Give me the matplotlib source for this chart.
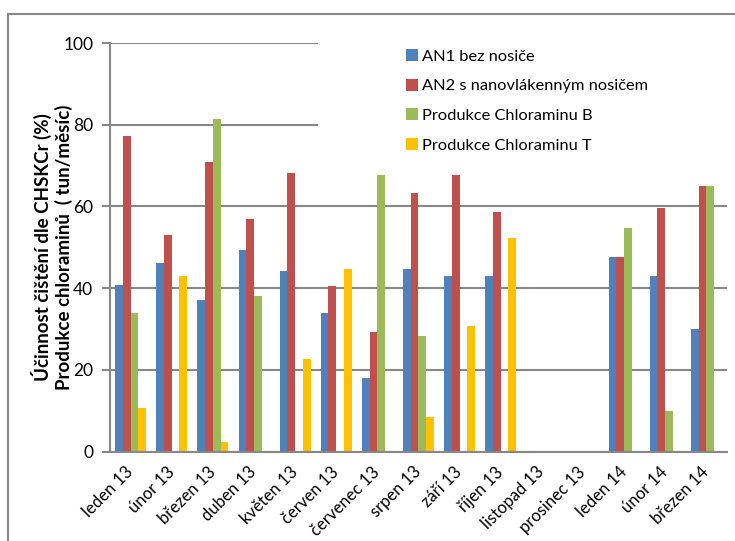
import numpy as np
import matplotlib.pyplot as plt
from matplotlib.patches import Rectangle

months = ['leden 13', 'únor 13', 'březen 13', 'duben 13', 'květen 13', 'červen 13',
          'červenec 13', 'srpen 13', 'září 13', 'říjen 13', 'listopad 13', 'prosinec 13',
          'leden 14', 'únor 14', 'březen 14']

an1 = [40.8, 46.1, 37.2, 49.3, 44.1, 34.0, 18.0, 44.8, 42.9, 43.0, 0, 0, 47.6, 42.9, 30.0]
an2 = [77.3, 52.9, 70.9, 56.9, 68.1, 40.4, 29.3, 63.3, 67.7, 58.7, 0, 0, 47.6, 59.7, 65.0]
chlor_b = [34.0, 0, 81.3, 38.1, 0, 0, 67.7, 28.4, 0, 0, 0, 0, 54.8, 10.0, 65.0]
chlor_t = [10.7, 42.9, 2.4, 0, 22.7, 44.8, 0, 8.4, 30.8, 52.2, 0, 0, 0, 0, 0]

series = [('AN1 bez nosiče', an1, '#4F81BD'),
          ('AN2 s nanovlákenným nosičem', an2, '#C0504D'),
          ('Produkce Chloraminu B', chlor_b, '#9BBB59'),
          ('Produkce Chloraminu T', chlor_t, '#FFC000')]

plt.rcParams['font.family'] = ['Lato', 'DejaVu Sans']
grey = '#878787'

fig = plt.figure(figsize=(7.35, 5.41), dpi=100)
ax = fig.add_axes([0.1497, 0.1654, 0.8393, 0.7551])

x = np.arange(len(months))
w = 0.188
for i, (name, vals, col) in enumerate(series):
    ax.bar(x + (i - 1.5) * w, vals, w, color=col, label=name, zorder=2)

ax.set_xlim(-0.5, len(months) - 0.5)
ax.set_ylim(0, 100)
ax.set_yticks([0, 20, 40, 60, 80, 100])
ax.yaxis.grid(True, color=grey, lw=1.5)
ax.set_axisbelow(True)
for s in ['top', 'right']:
    ax.spines[s].set_visible(False)
for s in ['left', 'bottom']:
    ax.spines[s].set_color(grey)
    ax.spines[s].set_linewidth(1.5)
ax.tick_params(axis='y', length=6, width=1.5, color=grey, labelsize=12.5, pad=6)
ax.tick_params(axis='x', length=0, labelsize=12, pad=13)
ax.set_xticks(x)
ax.set_xticklabels(months, rotation=45, ha='right', va='center', rotation_mode='anchor')

ax.set_ylabel('Účinnost čištění dle CHSKCr (%)\nProdukce chloraminů  ( tun/měsíc)',
              fontsize=13.5, fontweight='bold', linespacing=1.2)
ax.yaxis.set_label_coords(-0.06, 0.5)

# white block behind the legend, hides the upper gridlines
fig.add_artist(Rectangle((318 / 735, 1 - 165 / 541), 0.56, 130 / 541,
                         transform=fig.transFigure, facecolor='white',
                         edgecolor='none', zorder=1))
handles, labels = ax.get_legend_handles_labels()
fig.legend(handles, labels, loc='upper left', bbox_to_anchor=(406 / 735, 1 - 49 / 541),
           frameon=False, fontsize=11.8, handlelength=0.75, handleheight=0.75,
           handletextpad=0.2, labelspacing=0.91, borderpad=0, borderaxespad=0)

# chart area border
fig.add_artist(Rectangle((8 / 735, -0.1), 1.2, 1 - 14 / 541 + 0.1, transform=fig.transFigure,
                         fill=False, edgecolor=grey, lw=1.5))

fig.savefig('out.png', dpi=100)
